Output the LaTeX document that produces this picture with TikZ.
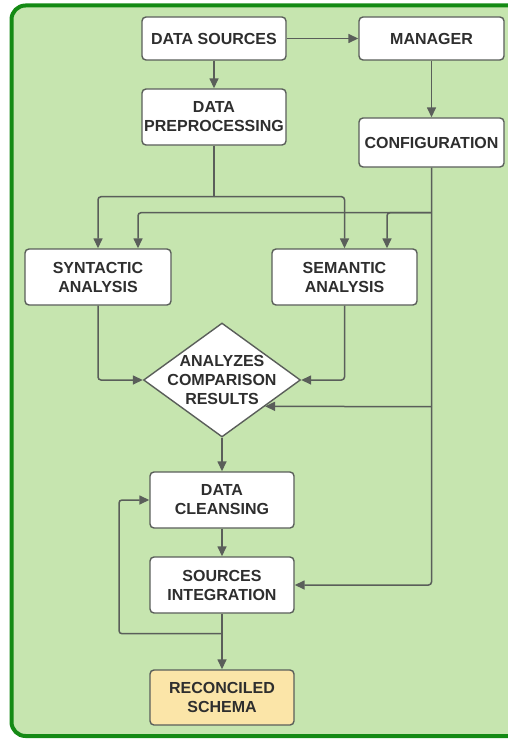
\documentclass[tikz,border=0pt]{standalone}
\usepackage{fontspec}
\setmainfont{Liberation Sans}
\usetikzlibrary{arrows.meta,shapes.geometric,calc}

\definecolor{bggreen}{HTML}{C6E5AF}
\definecolor{framegreen}{HTML}{148A14}
\definecolor{edgegray}{HTML}{5A5E5A}
\definecolor{txtgray}{HTML}{2E2E2E}
\definecolor{schemafill}{HTML}{FBE5A8}

\tikzset{
  stepfont/.style={font=\fontsize{16}{19}\selectfont\bfseries},
  stepbox/.style={draw=edgegray, line width=1.4pt, fill=white, rounded corners=4pt,
    minimum width=144pt, inner sep=2pt, align=center, text=txtgray, stepfont},
  decision/.style={draw=edgegray, line width=1.4pt, fill=white, diamond,
    minimum width=157pt, minimum height=114pt, inner sep=0pt},
  conn/.style={draw=edgegray, line width=1.5pt, rounded corners=3pt,
    -{Triangle[length=10pt,width=9pt]}},
  wire/.style={draw=edgegray, line width=1.5pt, rounded corners=3pt}
}

\begin{document}
\begin{tikzpicture}[x=1pt,y=-1pt]
\useasboundingbox (0,0) rectangle (508,741);
\clip (0,0) rectangle (508,741);

% outer panel, its right side runs past the page edge
\draw[line width=4pt, draw=framegreen, fill=bggreen, rounded corners=14pt]
  (11.5,5.5) rectangle (540,736);

% process steps
\node[stepbox, minimum height=43pt] (ds)  at (214,38.5)  {DATA SOURCES};
\node[stepbox, minimum width=145pt, minimum height=43pt] (mgr) at (431.5,38.5) {MANAGER};
\node[stepbox, minimum height=56pt] (dp)  at (214,117)   {DATA\\PREPROCESSING};
\node[stepbox, minimum width=145pt, minimum height=49pt] (cfg) at (431.5,142.5) {CONFIGURATION};
\node[stepbox, minimum width=146pt, minimum height=56pt] (syn) at (98,277) {SYNTACTIC\\ANALYSIS};
\node[stepbox, minimum width=145pt, minimum height=56pt] (sem) at (344.5,277) {SEMANTIC\\ANALYSIS};
\node[decision, label={[align=center, text=txtgray, stepfont]center:ANALYZES\\COMPARISON\\RESULTS}] (dia) at (222,380) {};
\node[stepbox, minimum height=56pt] (dc)  at (222,500)   {DATA\\CLEANSING};
\node[stepbox, minimum height=56pt] (si)  at (222,585)   {SOURCES\\INTEGRATION};
\node[stepbox, minimum height=55pt, fill=schemafill] (rs) at (222,697.5) {RECONCILED\\SCHEMA};

% top row
\draw[conn] (ds.east) -- (mgr.west);
\draw[conn] (ds.south) -- (dp.north);
\draw[conn] (mgr.south) -- (cfg.north);

% preprocessing feeds both analyses
\coordinate (dpsplit) at ($(dp.south)+(0,51)$);
\draw[wire] (dp.south) -- (dpsplit);
\draw[conn] (dpsplit) -| (syn.north);
\draw[conn] (dpsplit) -| (sem.north);

% configuration bus
\coordinate (cfgsplit) at ($(cfg.south)+(0,45)$);
\coordinate (cfgdia) at ($(cfg.south)+(0,239)$);
\draw[conn] (cfg.south) |- (si.east);
\draw[conn] (cfgsplit) -| ($(syn.north)+(40,0)$);
\draw[conn] (cfgsplit) -| ($(sem.north)+(42.5,0)$);
\draw[conn] (cfgdia) -- ($(dia.east)!0.456!(dia.south)$);

% analyses into comparison
\draw[conn] (syn.south) |- (dia.west);
\draw[conn] (sem.south) |- (dia.east);

% lower chain
\draw[conn] (dia.south) -- (dc.north);
\draw[conn] (dc.south) -- (si.north);
\draw[conn] (si.south) -- (rs.north);

% cleansing feedback loop
\coordinate (loopstart) at ($(si.south)+(0,20)$);
\draw[conn] (loopstart) -- ++(-103,0) |- (dc.west);
\end{tikzpicture}
\end{document}
